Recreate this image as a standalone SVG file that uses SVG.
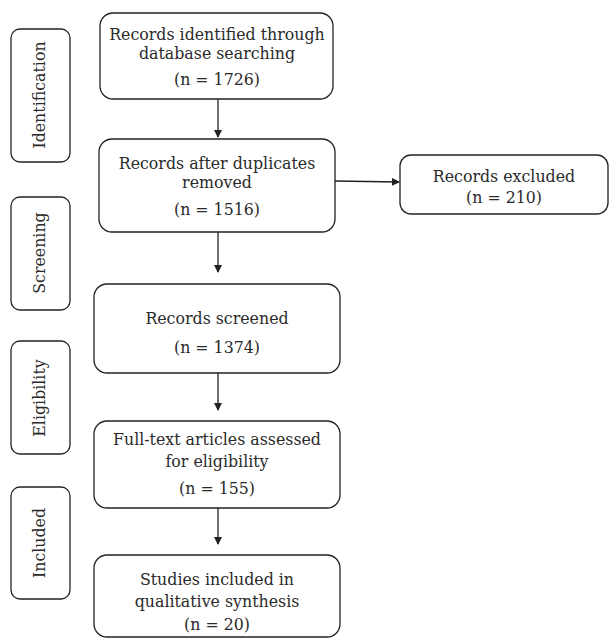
<svg xmlns="http://www.w3.org/2000/svg" width="610" height="640" viewBox="0 0 610 640">
<style>
.box{fill:#fff;stroke:#222;stroke-width:1.3}
.t{font-family:"DejaVu Serif","Liberation Serif",serif;font-size:15.8px;fill:#2a2a2a;text-anchor:middle}
.c{stroke:#222;stroke-width:1.3;fill:none}
</style>
<defs>
<marker id="ah" markerWidth="8" markerHeight="8" refX="7" refY="4" orient="auto" markerUnits="userSpaceOnUse">
<path d="M0,0 L8,4 L0,8 Z" fill="#222"/>
</marker>
</defs>
<rect width="610" height="640" fill="#fff"/>
<g id="stage-identification">
<rect class="box" x="11" y="29" width="59" height="133" rx="9"/>
<text class="t" transform="translate(45,95) rotate(-90)">Identification</text>
</g>
<g id="stage-screening">
<rect class="box" x="11" y="197" width="59" height="113" rx="9"/>
<text class="t" transform="translate(45,253) rotate(-90)">Screening</text>
</g>
<g id="stage-eligibility">
<rect class="box" x="11" y="341" width="59" height="113" rx="9"/>
<text class="t" transform="translate(45,398) rotate(-90)">Eligibility</text>
</g>
<g id="stage-included">
<rect class="box" x="11" y="487" width="59" height="112" rx="9"/>
<text class="t" transform="translate(45,543) rotate(-90)">Included</text>
</g>
<g id="n1">
<rect class="box" x="100" y="13" width="233" height="86" rx="13"/>
<text class="t" x="217" y="40">Records identified through</text>
<text class="t" x="217" y="58.5">database searching</text>
<text class="t" x="217" y="85">(n = 1726)</text>
</g>
<g id="n2">
<rect class="box" x="99" y="139" width="236" height="93" rx="13"/>
<text class="t" x="217" y="169">Records after duplicates</text>
<text class="t" x="217" y="188">removed</text>
<text class="t" x="217" y="215">(n = 1516)</text>
</g>
<g id="n-excluded">
<rect class="box" x="400" y="155" width="208" height="59" rx="11"/>
<text class="t" x="504" y="182">Records excluded</text>
<text class="t" x="504" y="203">(n = 210)</text>
</g>
<g id="n3">
<rect class="box" x="94" y="284" width="246" height="89" rx="13"/>
<text class="t" x="217" y="324">Records screened</text>
<text class="t" x="217" y="353">(n = 1374)</text>
</g>
<g id="n4">
<rect class="box" x="94" y="421" width="246" height="87" rx="13"/>
<text class="t" x="217" y="445">Full-text articles assessed</text>
<text class="t" x="217" y="467">for eligibility</text>
<text class="t" x="217" y="494">(n = 155)</text>
</g>
<g id="n5">
<rect class="box" x="94" y="555" width="246" height="82" rx="13"/>
<text class="t" x="217" y="585">Studies included in</text>
<text class="t" x="217" y="607">qualitative synthesis</text>
<text class="t" x="217" y="630">(n = 20)</text>
</g>
<g id="connectors">
<line class="c" x1="218" y1="99" x2="218" y2="137" marker-end="url(#ah)"/>
<line class="c" x1="335" y1="181" x2="399" y2="182" marker-end="url(#ah)"/>
<line class="c" x1="218" y1="232" x2="218" y2="272" marker-end="url(#ah)"/>
<line class="c" x1="218" y1="373" x2="218" y2="410" marker-end="url(#ah)"/>
<line class="c" x1="218" y1="508" x2="218" y2="544" marker-end="url(#ah)"/>
</g>
</svg>
